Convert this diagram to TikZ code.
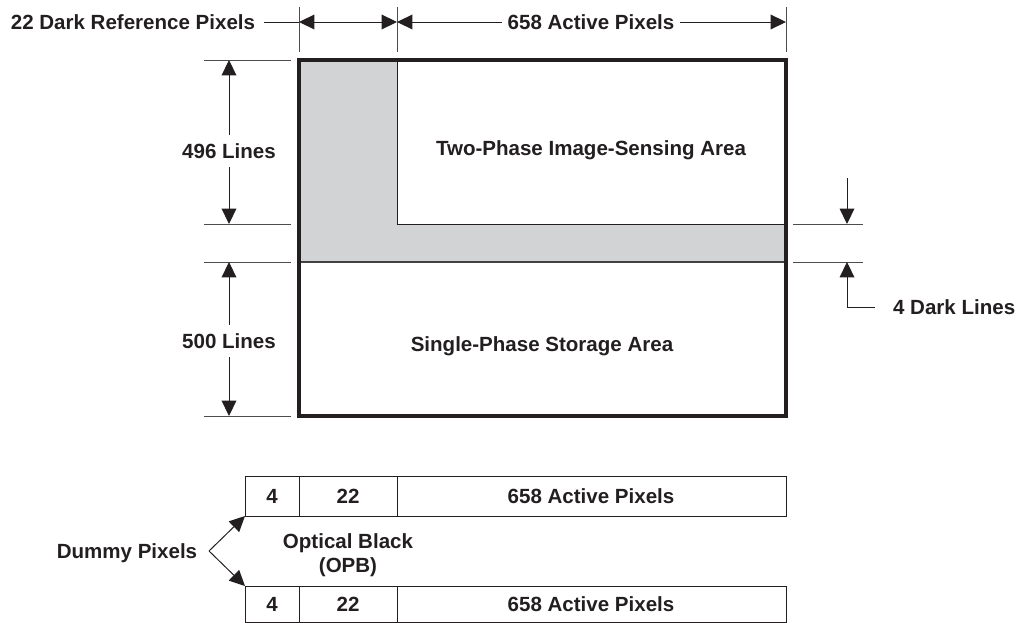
\documentclass[tikz,border=0pt]{standalone}
\usepackage{fontspec}
\setmainfont{Liberation Sans}
\usetikzlibrary{arrows.meta}
\definecolor{darkgray}{HTML}{D1D3D4}
\definecolor{inkline}{HTML}{231F20}

\begin{document}
\begin{tikzpicture}[
	x=0.025cm, y=-0.025cm,
	every node/.style={
		font=\fontsize{14.6}{17}\selectfont\bfseries, text=inkline,
		inner sep=2pt, align=center
	},
	thinline/.style={line width=0.7pt, draw=inkline},
	extline/.style={line width=0.6pt, draw=inkline!80},
	dimarrow/.style={thinline, -{Triangle[length=11pt, width=10.5pt]}},
	dimboth/.style={thinline, {Triangle[length=11pt, width=10.5pt]}-{Triangle[length=11pt, width=10.5pt]}},
	gapnode/.style={inner xsep=4pt, inner ysep=6pt}
	]
	
	\useasboundingbox (0,0) rectangle (1019,623);
	
	% Sensor: dark reference column and dark lines
	\fill[darkgray] (299,60) -- (397,60) -- (397,224) -- (786,224) -- (786,262) -- (299,262) -- cycle;
	\draw[thinline] (397,60) -- (397,224) -- (786,224);
	\draw[line width=1.2pt, draw=inkline!85] (299,262) -- (786,262);
	\draw[line width=2.4pt, draw=inkline] (299,60) rectangle (786,416);
	
	\node (imagearea) at (591,150) {Two-Phase Image-Sensing Area};
	\node (storearea) at (542,346) {Single-Phase Storage Area};
	
	% Top dimensions
	\draw[extline] (299,7) -- (299,52) (397,7) -- (397,52) (786,7) -- (786,52);
	\coordinate (tl) at (299,22);
	\coordinate (tm) at (397,22);
	\coordinate (tr) at (786,22);
	\node[inner xsep=6pt] (darkref) at (133,22) {22 Dark Reference Pixels};
	\node[gapnode] (activetop) at (591,22) {658 Active Pixels};
	\draw[thinline] (darkref.east) -- (tl);
	\draw[dimboth] (tl) -- (tm);
	\draw[dimarrow] (activetop.west) -- (tm);
	\draw[dimarrow] (activetop.east) -- (tr);
	
	% Left dimensions
	\draw[extline] (204,60) -- (291,60) (204,224) -- (291,224)
		(204,262) -- (291,262) (204,416) -- (291,416);
	\node[gapnode] (imglines) at (229,151) {496 Lines};
	\node[gapnode] (storelines) at (229,341) {500 Lines};
	\draw[dimarrow] (imglines.north) -- (229,60);
	\draw[dimarrow] (imglines.south) -- (229,224);
	\draw[dimarrow] (storelines.north) -- (229,262);
	\draw[dimarrow] (storelines.south) -- (229,416);
	
	% Right dimension: 4 dark lines
	\draw[extline] (793,224) -- (863,224) (793,262) -- (863,262);
	\coordinate (dltop) at (847,178);
	\coordinate (dlstart) at (875,307);
	\coordinate (dlcorner) at (847,307);
	\node[anchor=west] (darklines) at (890,307) {4 Dark Lines};
	\draw[dimarrow] (dltop) -- (847,224);
	\draw[dimarrow] (dlstart) -- (dlcorner) -- (847,262);
	
	% Bottom: pixel rows
	\foreach \top/\bot [count=\r] in {476/516, 586/622} {
		\draw[thinline] (245,\top) rectangle (786,\bot);
		\draw[thinline] (299,\top) -- (299,\bot) (397,\top) -- (397,\bot);
		\node (dummy\r) at (272,{(\top+\bot)/2}) {4};
		\node (opb\r) at (348,{(\top+\bot)/2}) {22};
		\node (active\r) at (591,{(\top+\bot)/2}) {658 Active Pixels};
	}
	\node (opb) at (348,555) {Optical Black\\(OPB)};
	
	% Dummy pixels
	\node (dummylbl) at (127,553) {Dummy Pixels};
	\coordinate (fork) at (209,551);
	\coordinate (row1sw) at (245,516);
	\coordinate (row2nw) at (245,586);
	\draw[dimarrow] (fork) -- (row1sw);
	\draw[dimarrow] (fork) -- (row2nw);
	
\end{tikzpicture}
\end{document}
